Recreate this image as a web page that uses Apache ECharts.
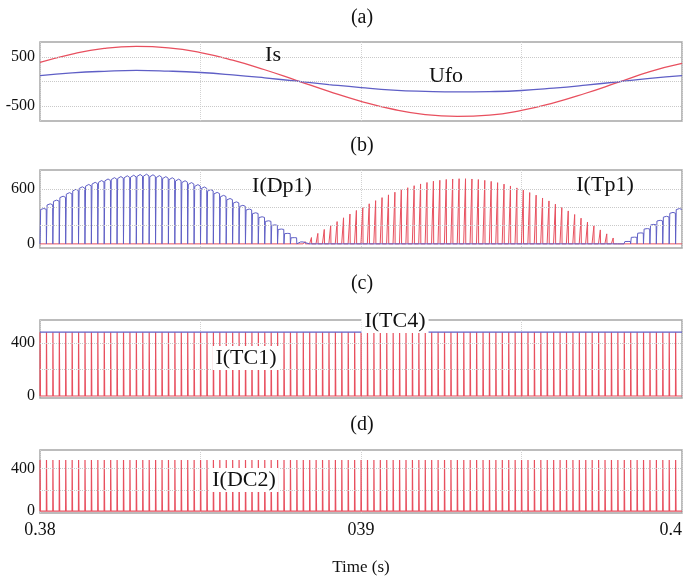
<!DOCTYPE html>
<html><head><meta charset="utf-8">
<script src="https://cdn.jsdelivr.net/npm/echarts@6/dist/echarts.min.js"></script>
<style>html,body{margin:0;padding:0;background:#fff}#c{width:691px;height:581px}</style>
</head><body><div id="c"></div>
<script>
// ---- panel (a): sampled every 1 ms
const sampleTimes = [0.380,0.381,0.382,0.383,0.384,0.385,0.386,0.387,0.388,0.389,0.390,0.391,0.392,0.393,0.394,0.395,0.396,0.397,0.398,0.399,0.400];
const isValues  = [385,555,669,710,681,586,433,238,20,-200,-401,-562,-669,-705,-681,-586,-433,-238,-20,200,365];
const ufoValues = [120,174,207,225,211,182,134,74,6,-62,-124,-174,-200,-212,-205,-182,-134,-74,-6,62,118];

// ---- switching instants (5 kHz)
const pulseTimes = [
0.3800,0.3802,0.3804,0.3806,0.3808,0.3810,0.3812,0.3814,0.3816,0.3818,
0.3820,0.3822,0.3824,0.3826,0.3828,0.3830,0.3832,0.3834,0.3836,0.3838,
0.3840,0.3842,0.3844,0.3846,0.3848,0.3850,0.3852,0.3854,0.3856,0.3858,
0.3860,0.3862,0.3864,0.3866,0.3868,0.3870,0.3872,0.3874,0.3876,0.3878,
0.3880,0.3882,0.3884,0.3886,0.3888,0.3890,0.3892,0.3894,0.3896,0.3898,
0.3900,0.3902,0.3904,0.3906,0.3908,0.3910,0.3912,0.3914,0.3916,0.3918,
0.3920,0.3922,0.3924,0.3926,0.3928,0.3930,0.3932,0.3934,0.3936,0.3938,
0.3940,0.3942,0.3944,0.3946,0.3948,0.3950,0.3952,0.3954,0.3956,0.3958,
0.3960,0.3962,0.3964,0.3966,0.3968,0.3970,0.3972,0.3974,0.3976,0.3978,
0.3980,0.3982,0.3984,0.3986,0.3988,0.3990,0.3992,0.3994,0.3996,0.3998];

// ---- panel (b): peak of each switching period
const dp1Peaks = [
380,430,470,512,550,586,613,638,661,680,
697,711,723,731,737,745,748,742,733,722,
710,695,678,658,636,611,583,553,521,487,
451,414,374,334,291,248,204,159,113,67,
21,0,0,0,0,0,0,0,0,0,
0,0,0,0,0,0,0,0,0,0,
0,0,0,0,0,0,0,0,0,0,
0,0,0,0,0,0,0,0,0,0,
0,0,0,0,0,0,0,0,0,0,
0,26,72,118,164,209,253,296,338,379];
const tp1Peaks = [
0,0,0,0,0,0,0,0,0,0,
0,0,0,0,0,0,0,0,0,0,
0,0,0,0,0,0,0,0,0,0,
0,0,0,0,0,0,0,0,0,0,
0,25,69,114,157,200,243,284,325,364,
401,437,471,504,534,563,589,612,634,653,
669,683,693,702,707,710,710,707,701,692,
681,667,651,631,610,586,559,531,500,468,
433,397,359,320,280,238,196,152,109,64,
20,0,0,0,0,0,0,0,0,0];

// ---- panels (c), (d)
const tc1Peaks = [
483,483,483,483,483,483,483,483,483,483,483,483,483,483,483,483,483,483,483,483,
483,483,483,483,483,483,483,483,483,483,483,483,483,483,483,483,483,483,483,483,
483,483,483,483,483,483,483,483,483,483,483,483,483,483,483,483,483,483,483,483,
483,483,483,483,483,483,483,483,483,483,483,483,483,483,483,483,483,483,483,483,
483,483,483,483,483,483,483,483,483,483,483,483,483,483,483,483,483,483,483,483];
const dc2Peaks = [
481,481,481,481,481,481,481,481,481,481,481,481,481,481,481,481,481,481,481,481,
481,481,481,481,481,481,481,481,481,481,481,481,481,481,481,481,481,481,481,481,
481,481,481,481,481,481,481,481,481,481,481,481,481,481,481,481,481,481,481,481,
481,481,481,481,481,481,481,481,481,481,481,481,481,481,481,481,481,481,481,481,
481,481,481,481,481,481,481,481,481,481,481,481,481,481,481,481,481,481,481,481];
const tc4Times = [0.38, 0.40];
const tc4Values = [483, 483];

// ---- ticks
const xTickValues = [0.38, 0.39, 0.40];
const xTickLabels = ['0.38', '039', '0.4'];
const yLabelsA = [-500, 500], yGridA = [-500, 0, 500];
const yLabelsB = [0, 600],    yGridB = [200, 400, 600];
const yLabelsC = [0, 400],    yGridC = [200, 400];
const yLabelsD = [0, 400],    yGridD = [200, 400];

const RED = '#e8505f', BLUE = '#5f5fc6';
const SERIF = '"Liberation Serif","Times New Roman",serif';
const X0 = 0.38, X1 = 0.40;

function nextT(k){ return k + 1 < pulseTimes.length ? pulseTimes[k+1] : X1; }
function notchWave(peaks){ // high with brief drops to zero
  const p = [];
  for (let k = 0; k < pulseTimes.length; k++){
    const t0 = pulseTimes[k], t1 = nextT(k), T = t1 - t0, h = peaks[k];
    p.push([t0, 0]);
    if (h > 0){ p.push([t0 + T*0.1, h*0.985]); p.push([t0 + T*0.6, h*1.015]); p.push([t1 - T*0.03, h*0.99]); }
    else p.push([t1 - T*0.03, 0]);
  }
  return p;
}
function spikeWave(peaks, rise, fall){ // low with brief spikes
  const p = [];
  for (let k = 0; k < pulseTimes.length; k++){
    const t0 = pulseTimes[k], t1 = nextT(k), T = t1 - t0, h = peaks[k];
    p.push([t0, 0]);
    if (h > 0){ p.push([t0 + T*rise, h]); p.push([t0 + T*fall, h]); p.push([t0 + T*(fall+0.02), 0]); }
    p.push([t1 - T*0.01, 0]);
  }
  return p;
}
function zip(a, b){ return a.map((v, i) => [v, b[i]]); }

const L = 40, W = 642;
const grids = [
  {left:L, width:W, top:42,  height:79},
  {left:L, width:W, top:170, height:78},
  {left:L, width:W, top:320, height:78},
  {left:L, width:W, top:450, height:63}
].map(g => Object.assign(g, {show:true, borderColor:'#a6a6a6', borderWidth:1.5, backgroundColor:'#fff', containLabel:false, outerBoundsMode:'none'}));

const yRanges = [[-800, 800], [-45, 805], [-15, 575], [-18, 575]];
const yLabels = [yLabelsA, yLabelsB, yLabelsC, yLabelsD];
const yGrids = [yGridA, yGridB, yGridC, yGridD];

const xAxes = grids.map((g, i) => ({
  type:'value', gridIndex:i, min:X0, max:X1, interval:0.005,
  axisLine:{show:false}, axisTick:{show:false},
  splitLine:{show:true, lineStyle:{color:'#d2d2d2', type:'dotted', width:1}},
  axisLabel:{show:i === 3, margin:8, color:'#111', fontFamily:SERIF, fontSize:18, alignMaxLabel:'right',
    formatter: v => { const j = xTickValues.findIndex(x => Math.abs(x - v) < 1e-6); return j >= 0 ? xTickLabels[j] : ''; }},
  name: i === 3 ? 'Time (s)' : '', nameLocation:'middle', nameGap:46,
  nameTextStyle:{fontFamily:SERIF, fontSize:17, color:'#111'}
}));
const yAxes = grids.map((g, i) => ({
  type:'value', gridIndex:i, min:yRanges[i][0], max:yRanges[i][1],
  axisLine:{show:false}, axisTick:{show:false}, splitLine:{show:false},
  axisLabel:{customValues:yLabels[i], margin:5, color:'#111', fontFamily:SERIF, fontSize:16}
}));

const series = [];
yGrids.forEach((vals, i) => series.push({
  type:'line', xAxisIndex:i, yAxisIndex:i, data:[[X0, 0]], showSymbol:false, silent:true, z:1,
  lineStyle:{opacity:0},
  markLine:{silent:true, symbol:'none', label:{show:false}, animation:false,
    lineStyle:{color:'#c9c9c9', type:'dotted', width:1}, data: vals.map(v => ({yAxis:v}))}
}));
const common = {type:'line', showSymbol:false, symbol:'none', silent:true, z:3, animation:false};
series.push(Object.assign({}, common, {xAxisIndex:0, yAxisIndex:0, smooth:true, data:zip(sampleTimes, isValues), lineStyle:{color:RED, width:1.3}}));
series.push(Object.assign({}, common, {xAxisIndex:0, yAxisIndex:0, smooth:true, data:zip(sampleTimes, ufoValues), lineStyle:{color:BLUE, width:1.3}}));
series.push(Object.assign({}, common, {xAxisIndex:1, yAxisIndex:1, data:spikeWave(tp1Peaks, 0.28, 0.30), lineStyle:{color:RED, width:1}}));
series.push(Object.assign({}, common, {xAxisIndex:1, yAxisIndex:1, data:notchWave(dp1Peaks), lineStyle:{color:BLUE, width:1}}));
series.push(Object.assign({}, common, {xAxisIndex:2, yAxisIndex:2, data:spikeWave(tc1Peaks, 0.01, 0.05), lineStyle:{color:RED, width:1.2}}));
series.push(Object.assign({}, common, {xAxisIndex:2, yAxisIndex:2, data:zip(tc4Times, tc4Values), lineStyle:{color:BLUE, width:1.2}}));
series.push(Object.assign({}, common, {xAxisIndex:3, yAxisIndex:3, data:spikeWave(dc2Peaks, 0.01, 0.05), lineStyle:{color:RED, width:1.2}}));

function txt(s, x, y, size, bg){
  const st = {text:s, x:x, y:y, align:'center', verticalAlign:'middle', font: size + 'px ' + SERIF, fill:'#111'};
  if (bg) { st.backgroundColor = '#fff'; st.padding = [1, 3]; }
  return {type:'text', z:100, style:st};
}
const graphic = [
  txt('(a)', 362, 18, 20), txt('(b)', 362, 146, 20), txt('(c)', 362, 284, 20), txt('(d)', 362, 425, 20),
  txt('Is', 273, 55, 22), txt('Ufo', 446, 76, 22),
  txt('I(Dp1)', 282, 186, 22), txt('I(Tp1)', 605, 185, 22),
  txt('I(TC4)', 395, 321, 22, true), txt('I(TC1)', 246, 358, 22, true), txt('I(DC2)', 244, 480, 22, true)
];

const chart = echarts.init(document.getElementById('c'), null, {renderer:'canvas'});
chart.setOption({animation:false, backgroundColor:'#fff', grid:grids, xAxis:xAxes, yAxis:yAxes, series:series, graphic:graphic});
</script></body></html>
